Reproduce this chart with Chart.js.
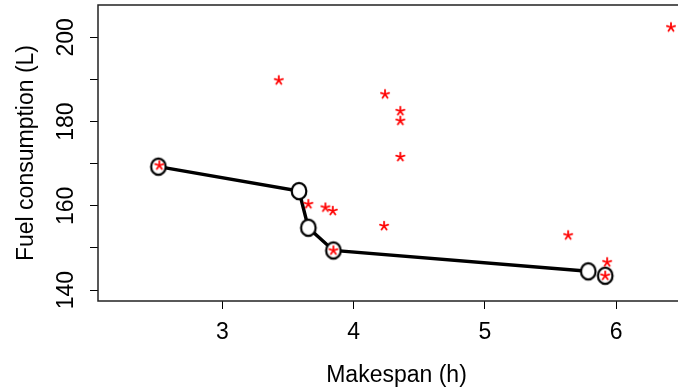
<!DOCTYPE html>
<html>
<head>
<meta charset="utf-8">
<script src="https://cdn.jsdelivr.net/npm/chart.js@4/dist/chart.umd.min.js"></script>
<style>
  html, body { margin: 0; padding: 0; background: #fff; overflow: hidden; }
  #wrap { width: 678px; height: 388px; }
</style>
</head>
<body>
<div id="wrap"><canvas id="chart" width="678" height="388"></canvas></div>
<script>
// pareto front (connected by the line)
const frontX = [2.513, 3.584, 3.655, 3.846, 5.787];
const frontY = [169.3, 163.5, 154.8, 149.4, 144.45];
// circled solutions
const circleX = [2.513, 3.584, 3.655, 3.846, 5.787, 5.916];
const circleY = [169.3, 163.5, 154.8, 149.4, 144.45, 143.4];
// all evaluated solutions (red stars)
const starX = [2.52, 3.43, 4.239, 4.356, 4.356, 4.356, 6.417, 3.655, 3.785, 3.841, 4.232, 3.846, 5.634, 5.931, 5.916];
const starY = [169.6, 189.8, 186.5, 182.5, 180.2, 171.6, 202.4, 160.4, 159.6, 158.8, 155.2, 149.4, 153.0, 146.6, 143.4];

const xTicks = [3, 4, 5, 6];
const yTicks = [140, 150, 160, 170, 180, 190, 200];
const yTickLabels = [140, 160, 180, 200];

const FONT = '23px "Liberation Sans", Arial, sans-serif';
const PLOT_RIGHT = 695; // plot box runs past the right edge of the picture

function toPoints(xs, ys) {
    return xs.map((x, i) => ({ x: x, y: ys[i] }));
}

// hollow (white filled) ellipse marker
function makeCircle() {
    const c = document.createElement("canvas");
    c.width = 20;
    c.height = 22;
    const g = c.getContext("2d");
    g.beginPath();
    g.ellipse(10, 11, 7.3, 8.1, 0, 0, Math.PI * 2);
    g.fillStyle = "#fff";
    g.fill();
    g.lineWidth = 2.2;
    g.strokeStyle = "#000";
    g.stroke();
    return c;
}

// red asterisk marker
function makeStar() {
    const c = document.createElement("canvas");
    c.width = 12;
    c.height = 12;
    const g = c.getContext("2d");
    g.strokeStyle = "#ff0000";
    g.lineWidth = 1.8;
    g.lineCap = "round";
    for (let k = 0; k < 5; k++) {
        const a = -Math.PI / 2 + k * 2 * Math.PI / 5;
        g.beginPath();
        g.moveTo(6, 6);
        g.lineTo(6 + Math.cos(a) * 4.3, 6 + Math.sin(a) * 4.3);
        g.stroke();
    }
    return c;
}

const stretchPlugin = {
    id: "stretch",
    afterLayout(chart) {
        const xs = chart.scales.x;
        chart.chartArea.right = PLOT_RIGHT;
        chart.chartArea.width = PLOT_RIGHT - chart.chartArea.left;
        xs.right = PLOT_RIGHT;
        xs.width = PLOT_RIGHT - xs.left;
        xs.configure();
    }
};

const textPlugin = {
    id: "rText",
    afterDraw(chart) {
        const ctx = chart.ctx;
        const area = chart.chartArea;
        const xs = chart.scales.x;
        const ys = chart.scales.y;
        ctx.save();
        // box
        ctx.strokeStyle = "#222";
        ctx.lineWidth = 1.5;
        ctx.strokeRect(area.left, area.top, area.right - area.left, area.bottom - area.top);

        ctx.fillStyle = "#000";
        ctx.font = FONT;
        ctx.textBaseline = "alphabetic";
        ctx.textAlign = "center";
        xTicks.forEach(v => {
            ctx.fillText(String(v), xs.getPixelForValue(v), 338.5);
        });
        ctx.fillText("Makespan (h)", (area.left + area.right) / 2, 381.5);

        yTickLabels.forEach(v => {
            ctx.save();
            ctx.translate(72.5, ys.getPixelForValue(v));
            ctx.rotate(-Math.PI / 2);
            ctx.fillText(String(v), 0, 0);
            ctx.restore();
        });
        ctx.save();
        ctx.translate(33, (area.top + area.bottom) / 2);
        ctx.rotate(-Math.PI / 2);
        ctx.fillText("Fuel consumption (L)", 0, 0);
        ctx.restore();
        ctx.restore();
    }
};

const circleImg = makeCircle();
const starImg = makeStar();

new Chart(document.getElementById("chart"), {
    type: "scatter",
    data: {
        datasets: [
            {
                data: toPoints(frontX, frontY),
                showLine: true,
                borderColor: "#000",
                borderWidth: 3.4,
                pointRadius: 0,
                order: 3
            },
            {
                data: toPoints(circleX, circleY),
                pointStyle: circleImg,
                pointRadius: 9,
                order: 2
            },
            {
                data: toPoints(starX, starY),
                pointStyle: starImg,
                pointRadius: 5,
                order: 1
            }
        ]
    },
    options: {
        responsive: false,
        animation: false,
        devicePixelRatio: 1,
        layout: { autoPadding: false, padding: { top: 5, right: 0, left: 0, bottom: 0 } },
        plugins: { legend: { display: false }, tooltip: { enabled: false } },
        scales: {
            x: {
                type: "linear",
                min: 2.053,
                max: 6.6,
                afterBuildTicks: s => { s.ticks = xTicks.map(v => ({ value: v })); },
                afterFit: s => { s.height = 87; },
                ticks: { display: false },
                border: { display: false },
                grid: { drawOnChartArea: false, drawTicks: true, tickLength: 8, color: "#000", lineWidth: 1 }
            },
            y: {
                type: "linear",
                min: 137.4,
                max: 207.7,
                afterBuildTicks: s => { s.ticks = yTicks.map(v => ({ value: v })); },
                afterFit: s => { s.width = 98; },
                ticks: { display: false },
                border: { display: false },
                grid: { drawOnChartArea: false, drawTicks: true, tickLength: 8, color: "#000", lineWidth: 1 }
            }
        }
    },
    plugins: [stretchPlugin, textPlugin]
});
</script>
</body>
</html>
